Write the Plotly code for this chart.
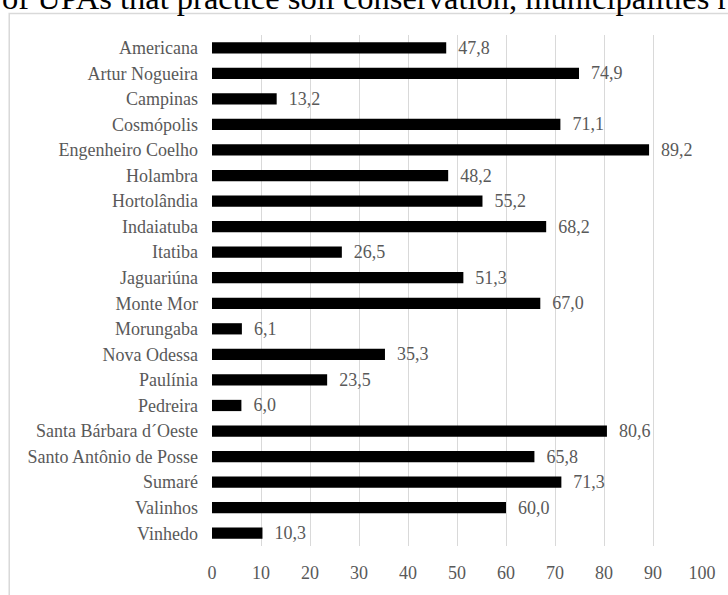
import plotly.graph_objects as go

# Share of farm units (UPAs) practising soil conservation, by municipality (%)
municipalities = [
    "Americana", "Artur Nogueira", "Campinas", "Cosmópolis", "Engenheiro Coelho",
    "Holambra", "Hortolândia", "Indaiatuba", "Itatiba", "Jaguariúna",
    "Monte Mor", "Morungaba", "Nova Odessa", "Paulínia", "Pedreira",
    "Santa Bárbara d´Oeste", "Santo Antônio de Posse", "Sumaré", "Valinhos", "Vinhedo",
]
shares = [
    47.8, 74.9, 13.2, 71.1, 89.2,
    48.2, 55.2, 68.2, 26.5, 51.3,
    67.0, 6.1, 35.3, 23.5, 6.0,
    80.6, 65.8, 71.3, 60.0, 10.3,
]
x_ticks = [0, 10, 20, 30, 40, 50, 60, 70, 80, 90, 100]
heading = "of UPAs that practice soil conservation, municipalities r"

W, H = 728, 595
L, R, T, B = 212, 23, 35, 35
plot_w = W - L - R
plot_h = H - T - B


def px_to_paper_x(px):
    return (px - L) / plot_w


def px_to_paper_y(py):
    return (H - B - py) / plot_h


serif = "Liberation Serif"
grey_text = "#595959"
grid = "#d9d9d9"

labels = ["\u00a0\u00a0" + f"{v:.1f}".replace(".", ",") for v in shares]

fig = go.Figure(
    go.Bar(
        x=shares,
        y=municipalities,
        orientation="h",
        marker=dict(color="#000000", line=dict(width=0)),
        text=labels,
        textposition="outside",
        constraintext="none",
        textfont=dict(family=serif, size=18, color=grey_text),
        cliponaxis=False,
        hoverinfo="skip",
    )
)

fig.update_layout(
    width=W,
    height=H,
    margin=dict(l=L, r=R, t=T, b=B, pad=0),
    paper_bgcolor="white",
    plot_bgcolor="white",
    showlegend=False,
    bargap=0.56,
    xaxis=dict(
        range=[0, 100],
        tickvals=x_ticks,
        ticktext=[str(t) for t in x_ticks],
        showgrid=True,
        gridcolor=grid,
        gridwidth=1.3,
        zeroline=False,
        showline=False,
        ticks="",
        ticklabelstandoff=14,
        tickfont=dict(family=serif, size=18, color=grey_text),
        fixedrange=True,
    ),
    yaxis=dict(
        autorange="reversed",
        showgrid=False,
        zeroline=False,
        showline=False,
        ticks="",
        ticklabelstandoff=13,
        tickfont=dict(family=serif, size=18, color=grey_text),
        fixedrange=True,
    ),
    shapes=[
        # chart frame (continues beyond the visible right and bottom edges)
        dict(
            type="rect",
            xref="paper", yref="paper",
            x0=px_to_paper_x(8), x1=px_to_paper_x(760),
            y0=px_to_paper_y(640), y1=px_to_paper_y(13),
            line=dict(color=grid, width=1.5),
            fillcolor="rgba(0,0,0,0)",
            layer="below",
        ),
    ],
    annotations=[
        dict(
            text=heading,
            xref="paper", yref="paper",
            x=px_to_paper_x(-1), y=px_to_paper_y(18),
            xanchor="left", yanchor="bottom",
            showarrow=False,
            font=dict(family=serif, size=32.5, color="#000000"),
        )
    ],
)

fig.write_html("out.html")
